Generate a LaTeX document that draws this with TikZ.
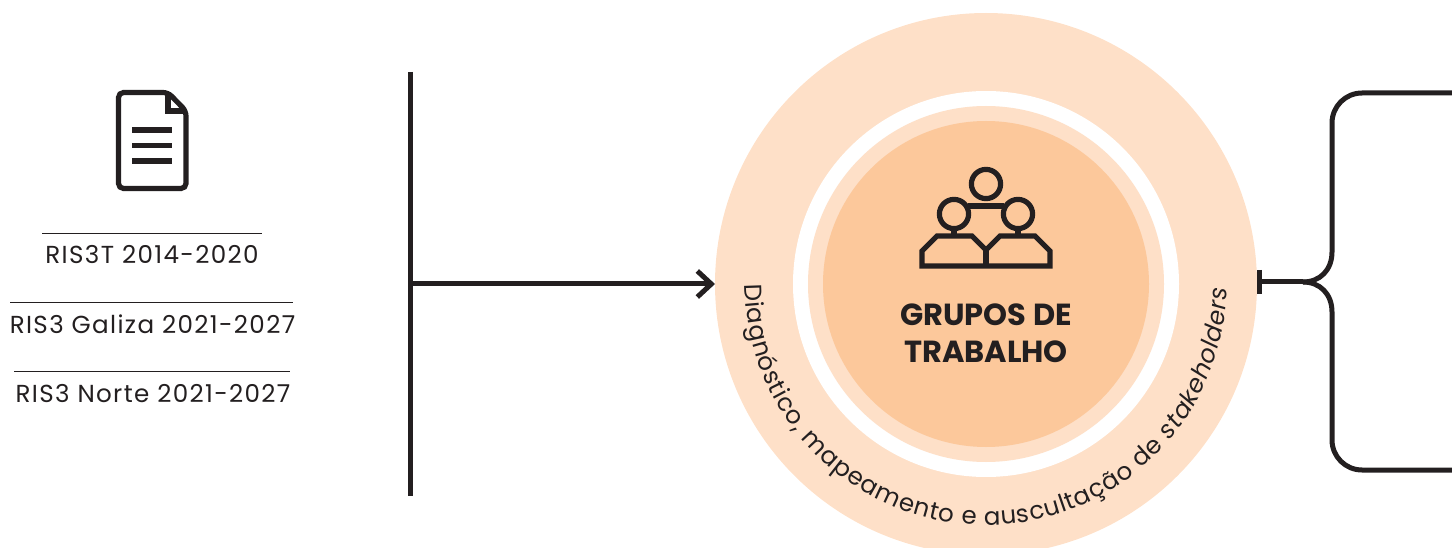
\documentclass[tikz,border=0pt]{standalone}
\usepackage{fontspec}
\setmainfont{Poppins}
\usetikzlibrary{arrows.meta,decorations.text}
\definecolor{ink}{HTML}{231F20}
\definecolor{ringc}{HTML}{FEE0C8}
\definecolor{corec}{HTML}{FCC89B}
\newfontfamily\risfont[LetterSpace=5.5]{Poppins}
\tikzset{
  x=1pt,y=-1pt,
  disc/.style={circle,inner sep=0pt,outer sep=0pt,draw=none},
  thick line/.style={draw=ink,line width=5pt},
  icon line/.style={draw=ink,line width=5.2pt,line join=miter},
  rule/.style={draw=ink,line width=.9pt},
  ris/.style={text=ink,font=\risfont\fontsize{24.6}{24.6}\selectfont,anchor=base,inner sep=0pt},
  title/.style={text=ink,font=\fontsize{30.5}{30.5}\selectfont\bfseries,anchor=base,inner sep=0pt},
}
\begin{document}
\begin{tikzpicture}
\useasboundingbox (0,0) rectangle (1452,548);
\clip (0,0) rectangle (1452,548);
% discs
\node[disc,fill=ringc,minimum size=542pt] (ring) at (986,284) {};
\node[disc,fill=white,minimum size=386pt] (gap) at (986,284) {};
\node[disc,fill=ringc,minimum size=356pt] (mid) at (986,284) {};
\node[disc,fill=corec,minimum size=326pt] (core) at (986,284) {};
% centre text
\node[title] (t1) at (986,325) {GRUPOS DE};
\node[title] (t2) at (986,362) {TRABALHO};
% curved text
\path[decorate,decoration={text along path,text align={fit to path},
  text={|\fontsize{24.5}{24.5}\selectfont\color{ink}|Diagnóstico, mapeamento e auscultação de |\fontsize{24.5}{24.5}\selectfont\itshape\color{ink}|stakeholders}}]
  ([shift={(180:241pt)}]ring.center) arc[start angle=180,end angle=359,radius=241pt];
% document icon
\coordinate (dA) at (118.5,92.5);
\draw[icon line,rounded corners=5pt] (dA) -- (168,92.5) -- (186,111) -- (186,188.5) -- (118.5,188.5) -- cycle;
\draw[icon line] (168,92.5) -- (168,111) -- (186,111);
\draw[icon line] (132,130) -- (172,130) (132,145.5) -- (172,145.5) (132,161) -- (172,161);
% RIS entries
\coordinate (r1a) at (42,233); \coordinate (r1b) at (262,233);
\coordinate (r2a) at (10,302); \coordinate (r2b) at (293,302);
\coordinate (r3a) at (14,371.5); \coordinate (r3b) at (290,371.5);
\draw[rule] (r1a) -- (r1b);
\draw[rule] (r2a) -- (r2b);
\draw[rule] (r3a) -- (r3b);
\node[ris] (l1) at (152,264) {RIS3T 2014-2020};
\node[ris] (l2) at (152.5,333) {RIS3 Galiza 2021-2027};
\node[ris] (l3) at (153,402) {RIS3 Norte 2021-2027};
% left bar and arrow
\coordinate (barT) at (410,72); \coordinate (barB) at (410,496); \coordinate (barM) at (410,284);
\draw[thick line] (barT) -- (barB);
\draw[thick line,-{Straight Barb[length=14pt,width=26pt,line width=5pt]}] (barM) -- (ring.west);
% brace
\coordinate (bT) at (1452,93); \coordinate (bB) at (1452,470); \coordinate (bJ) at (1303,282);
\draw[thick line] (bT) -- (1362,93) arc[start angle=90,end angle=180,radius=30pt] -- (1332,252) .. controls (1332,270) and (1320,282) .. (bJ);
\draw[thick line] (bB) -- (1362,470) arc[start angle=270,end angle=180,radius=30pt] -- (1332,312) .. controls (1332,294) and (1320,282) .. (bJ);
\draw[thick line] (bJ) -- (ring.east |- bJ);
\coordinate (tb) at (1259.5,282);
\draw[draw=ink,line width=5.5pt] (1259.5,270) -- (1259.5,294);
% people icon
\draw[icon line] (986,184) circle[radius=14.6pt];
\draw[icon line] (954,214) circle[radius=14.6pt];
\draw[icon line] (1018,214) circle[radius=14.6pt];
\draw[icon line] (968,206) -- (1004,206);
\draw[icon line] (954,229) -- (954,236) (1018,229) -- (1018,236);
\draw[icon line] (986,250) -- (972,236) -- (937,236) -- (922,251) -- (922,266) -- (1050,266) -- (1050,251) -- (1035,236) -- (1000,236) -- cycle;
\draw[icon line] (986,249) -- (986,268.5);
\end{tikzpicture}
\end{document}
